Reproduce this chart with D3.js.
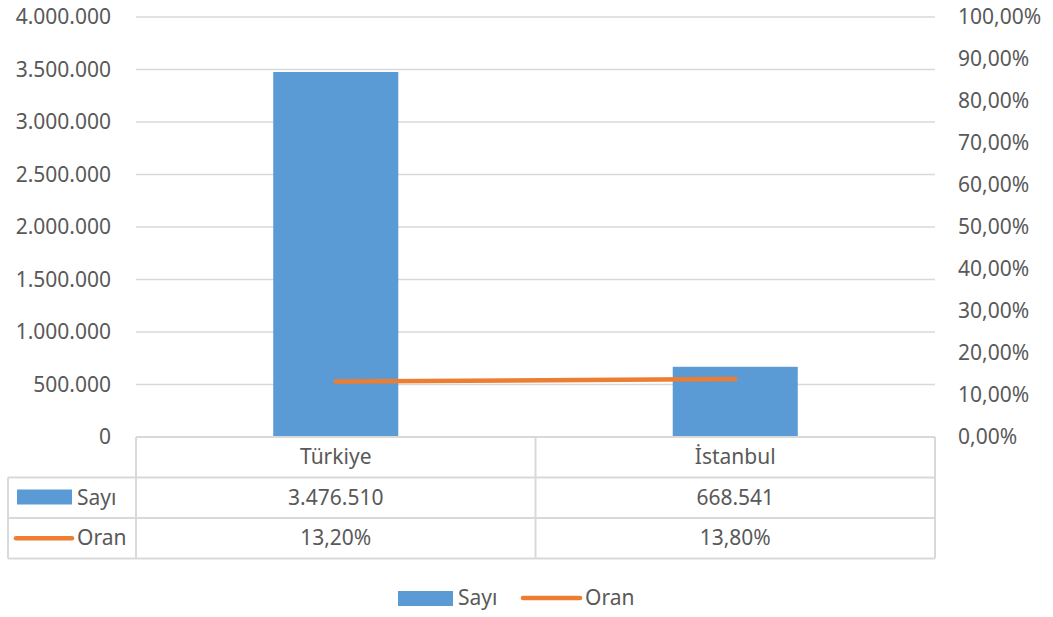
<!DOCTYPE html>
<html>
<head>
<meta charset="utf-8">
<script src="https://cdn.jsdelivr.net/npm/d3@7"></script>
<style>
  body { margin: 0; background: #fff; }
  text { font-family: "Noto Sans", "Open Sans", sans-serif; fill: #595959; }
</style>
</head>
<body>
<svg width="1053" height="617"></svg>
<script>
const categories = ["Türkiye", "İstanbul"];
const sayi = [3476510, 668541];
const oran = [0.132, 0.138];
const sayiLabels = ["3.476.510", "668.541"];
const oranLabels = ["13,20%", "13,80%"];
const leftTicks = [0, 500000, 1000000, 1500000, 2000000, 2500000, 3000000, 3500000, 4000000];
const rightTicks = [0, 0.1, 0.2, 0.3, 0.4, 0.5, 0.6, 0.7, 0.8, 0.9, 1];

const svg = d3.select("svg");
const barColor = "#5b9bd5";
const lineColor = "#ed7d31";
const gridColor = "#d9d9d9";
const fontSize = 21;

const plot = { left: 136, right: 935, top: 17, bottom: 437 };
const tableLeft = 8;
const rowH = 40.5;

const xBand = d3.scaleBand().domain(categories).range([plot.left, plot.right]).padding(0);
const yLeft = d3.scaleLinear().domain([0, 4000000]).range([plot.bottom, plot.top]);
const yRight = d3.scaleLinear().domain([0, 1]).range([plot.bottom, plot.top]);

const fmtNum = (n) => n === 0 ? "0" : d3.format(",")(n).replace(/,/g, ".");
const fmtPct = (p) => d3.format(".2f")(p * 100).replace(".", ",") + "%";

// gridlines
svg.append("g")
  .selectAll("line")
  .data(leftTicks.slice(1))
  .join("line")
  .attr("x1", plot.left).attr("x2", plot.right)
  .attr("y1", (d) => yLeft(d)).attr("y2", (d) => yLeft(d))
  .attr("stroke", gridColor).attr("stroke-width", 1.5);

// left axis
const leftAxis = d3.axisLeft(yLeft).tickValues(leftTicks).tickFormat(fmtNum).tickSize(0).tickPadding(0);
const leftG = svg.append("g").attr("transform", `translate(111,0)`).call(leftAxis);
leftG.select(".domain").remove();
leftG.selectAll("text").style("font-size", fontSize + "px").attr("fill", "#595959")
  .style("font-family", '"Noto Sans", sans-serif');

// right axis
const rightAxis = d3.axisRight(yRight).tickValues(rightTicks).tickFormat(fmtPct).tickSize(0).tickPadding(0);
const rightG = svg.append("g").attr("transform", `translate(958,0)`).call(rightAxis);
rightG.select(".domain").remove();
rightG.selectAll("text").style("font-size", fontSize + "px").attr("fill", "#595959")
  .style("font-family", '"Noto Sans", sans-serif');

// bars
const barW = xBand.bandwidth() * 0.313;
svg.append("g")
  .selectAll("rect")
  .data(categories)
  .join("rect")
  .attr("x", (d) => xBand(d) + xBand.bandwidth() / 2 - barW / 2)
  .attr("width", barW)
  .attr("y", (d, i) => yLeft(sayi[i]))
  .attr("height", (d, i) => plot.bottom - yLeft(sayi[i]))
  .attr("fill", barColor);

// line
const line = d3.line()
  .x((d, i) => xBand(categories[i]) + xBand.bandwidth() / 2)
  .y((d) => yRight(d));
svg.append("path")
  .datum(oran)
  .attr("d", line)
  .attr("fill", "none")
  .attr("stroke", lineColor)
  .attr("stroke-width", 4.5)
  .attr("stroke-linecap", "round");

// data table
const table = svg.append("g").attr("stroke", gridColor).attr("stroke-width", 2).attr("fill", "none");
const r0 = plot.bottom, r1 = r0 + rowH, r2 = r1 + rowH, r3 = r2 + rowH;
table.append("line").attr("x1", plot.left).attr("x2", plot.right).attr("y1", r0).attr("y2", r0);
[r1, r2, r3].forEach((y) => table.append("line").attr("x1", tableLeft).attr("x2", plot.right).attr("y1", y).attr("y2", y));
table.append("line").attr("x1", tableLeft).attr("x2", tableLeft).attr("y1", r1).attr("y2", r3);
[plot.left, plot.left + xBand.bandwidth(), plot.right].forEach((x) =>
  table.append("line").attr("x1", x).attr("x2", x).attr("y1", r0).attr("y2", r3));

const rows = [categories, sayiLabels, oranLabels];
rows.forEach((vals, r) => {
  svg.append("g").selectAll("text")
    .data(vals)
    .join("text")
    .attr("x", (d, i) => xBand(categories[i]) + xBand.bandwidth() / 2)
    .attr("y", r0 + rowH * r + rowH / 2 + 7)
    .attr("text-anchor", "middle")
    .style("font-size", fontSize + "px")
    .text((d) => d);
});

// table legend keys
svg.append("rect").attr("x", 17).attr("y", r1 + 12).attr("width", 55).attr("height", 15).attr("fill", barColor);
svg.append("text").attr("x", 77).attr("y", r1 + rowH / 2 + 7).style("font-size", fontSize + "px").text("Sayı");
svg.append("line").attr("x1", 16).attr("x2", 72).attr("y1", r2 + rowH / 2).attr("y2", r2 + rowH / 2)
  .attr("stroke", lineColor).attr("stroke-width", 4.5).attr("stroke-linecap", "round");
svg.append("text").attr("x", 77).attr("y", r2 + rowH / 2 + 7).style("font-size", fontSize + "px").text("Oran");

// legend
const legend = svg.append("g");
legend.append("rect").attr("x", 398).attr("y", 591).attr("width", 55).attr("height", 15).attr("fill", barColor);
legend.append("text").attr("x", 458).attr("y", 605).style("font-size", fontSize + "px").text("Sayı");
legend.append("line").attr("x1", 523).attr("x2", 580).attr("y1", 598).attr("y2", 598)
  .attr("stroke", lineColor).attr("stroke-width", 4.5).attr("stroke-linecap", "round");
legend.append("text").attr("x", 585).attr("y", 605).style("font-size", fontSize + "px").text("Oran");
</script>
</body>
</html>
